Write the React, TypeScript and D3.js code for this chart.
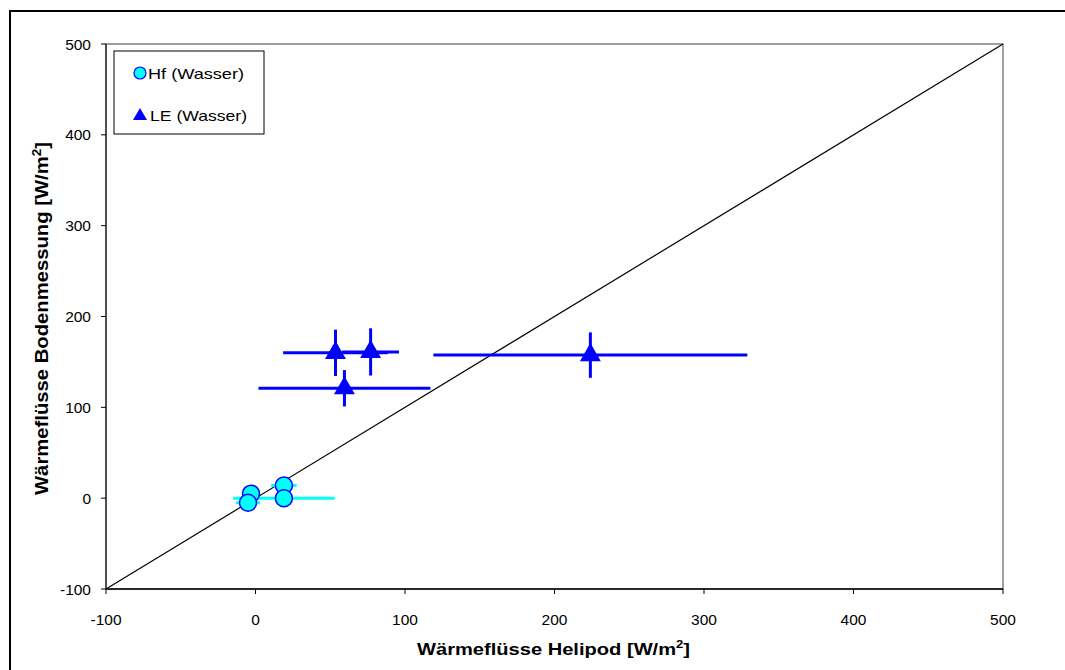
import * as d3 from "d3";

// Hf (Wasser)
const hfX = [-3, -5, 19, 19];
const hfY = [5, -5, 14, 0];
const hfXErr = [6, 8, 8.5, 34];
const hfYErr = [3, 3, 3, 3];

// LE (Wasser)
const leX = [53.5, 77, 59.5, 224];
const leY = [160, 161, 121, 157.5];
const leXErr = [35, 19, 57.5, 105];
const leYErr = [25.5, 26, 20, 25];

const xTicks = [-100, 0, 100, 200, 300, 400, 500];
const yTicks = [-100, 0, 100, 200, 300, 400, 500];

const font = "'Liberation Sans', Arial, sans-serif";

export default function App() {
  const left = 106, right = 1003, top = 44, bottom = 589;
  const x = d3.scaleLinear().domain([-100, 500]).range([left, right]);
  const y = d3.scaleLinear().domain([-100, 500]).range([bottom, top]);
  const tri = d3.symbol().type(d3.symbolTriangle).size(190)()!;
  const triSmall = d3.symbol().type(d3.symbolTriangle).size(85)()!;

  return (
    <svg width={1065} height={670} style={{ position: "absolute", left: 0, top: 0 }} fontFamily={font}>
      <rect x={0} y={0} width={1065} height={670} fill="#fff" />
      <rect x={10} y={11} width={1080} height={700} fill="none" stroke="#000" strokeWidth={2} />
      <rect x={left} y={top} width={right - left} height={bottom - top} fill="none" stroke="#404040" strokeWidth={1} />
      <line x1={x(-100)} y1={y(-100)} x2={x(500)} y2={y(500)} stroke="#000" strokeWidth={1.2} />

      {/* axes */}
      <line x1={left} x2={right} y1={bottom} y2={bottom} stroke="#000" strokeWidth={1.5} />
      <line x1={left} x2={left} y1={top} y2={bottom} stroke="#000" strokeWidth={1} />
      {xTicks.map(t => (
        <g key={"x" + t}>
          <line x1={x(t)} x2={x(t)} y1={bottom} y2={bottom + 5} stroke="#000" />
          <text x={x(t)} y={bottom + 36} textAnchor="middle" fontSize={15.5}>{t}</text>
        </g>
      ))}
      {yTicks.map(t => (
        <g key={"y" + t}>
          <line x1={left - 5} x2={left} y1={y(t)} y2={y(t)} stroke="#000" />
          <text x={left - 15} y={y(t) + 5.5} textAnchor="end" fontSize={15.5}>{t}</text>
        </g>
      ))}

      {/* Hf error bars + markers */}
      {hfX.map((v, i) => (
        <g key={"hfe" + i} stroke="#00FFFF" strokeWidth={3}>
          <line x1={x(v - hfXErr[i])} x2={x(v + hfXErr[i])} y1={y(hfY[i])} y2={y(hfY[i])} />
          <line x1={x(v)} x2={x(v)} y1={y(hfY[i] - hfYErr[i])} y2={y(hfY[i] + hfYErr[i])} />
        </g>
      ))}
      {hfX.map((v, i) => (
        <circle key={"hf" + i} cx={x(v)} cy={y(hfY[i])} r={8.5} fill="#00FFFF" stroke="#0000FF" strokeWidth={1.5} />
      ))}

      {/* LE error bars + markers */}
      {leX.map((v, i) => (
        <g key={"lee" + i} stroke="#0000FF" strokeWidth={3}>
          <line x1={x(v - leXErr[i])} x2={x(v + leXErr[i])} y1={y(leY[i])} y2={y(leY[i])} />
          <line x1={x(v)} x2={x(v)} y1={y(leY[i] - leYErr[i])} y2={y(leY[i] + leYErr[i])} />
        </g>
      ))}
      {leX.map((v, i) => (
        <path key={"le" + i} d={tri} transform={`translate(${x(v)},${y(leY[i])})`} fill="#0000FF" />
      ))}

      {/* legend */}
      <rect x={114} y={51} width={150} height={83} fill="#fff" stroke="#000" strokeWidth={1} />
      <circle cx={140} cy={73} r={6} fill="#00FFFF" stroke="#0000FF" strokeWidth={1.2} />
      <text x={148} y={79} fontSize={15} textLength={96} lengthAdjust="spacingAndGlyphs">Hf (Wasser)</text>
      <path d={triSmall} transform="translate(140,116)" fill="#0000FF" />
      <text x={150} y={121} fontSize={15} textLength={97} lengthAdjust="spacingAndGlyphs">LE (Wasser)</text>

      {/* axis titles */}
      <text x={417} y={655} fontSize={17} fontWeight="bold" textLength={273} lengthAdjust="spacingAndGlyphs">
        Wärmeflüsse Helipod [W/m<tspan dy={-7} fontSize={11}>2</tspan><tspan dy={7}>]</tspan>
      </text>
      <text transform="translate(48,495) rotate(-90)" fontSize={18} fontWeight="bold" textLength={353} lengthAdjust="spacingAndGlyphs">
        Wärmeflüsse Bodenmessung [W/m<tspan dy={-7} fontSize={12}>2</tspan><tspan dy={7}>]</tspan>
      </text>
    </svg>
  );
}
